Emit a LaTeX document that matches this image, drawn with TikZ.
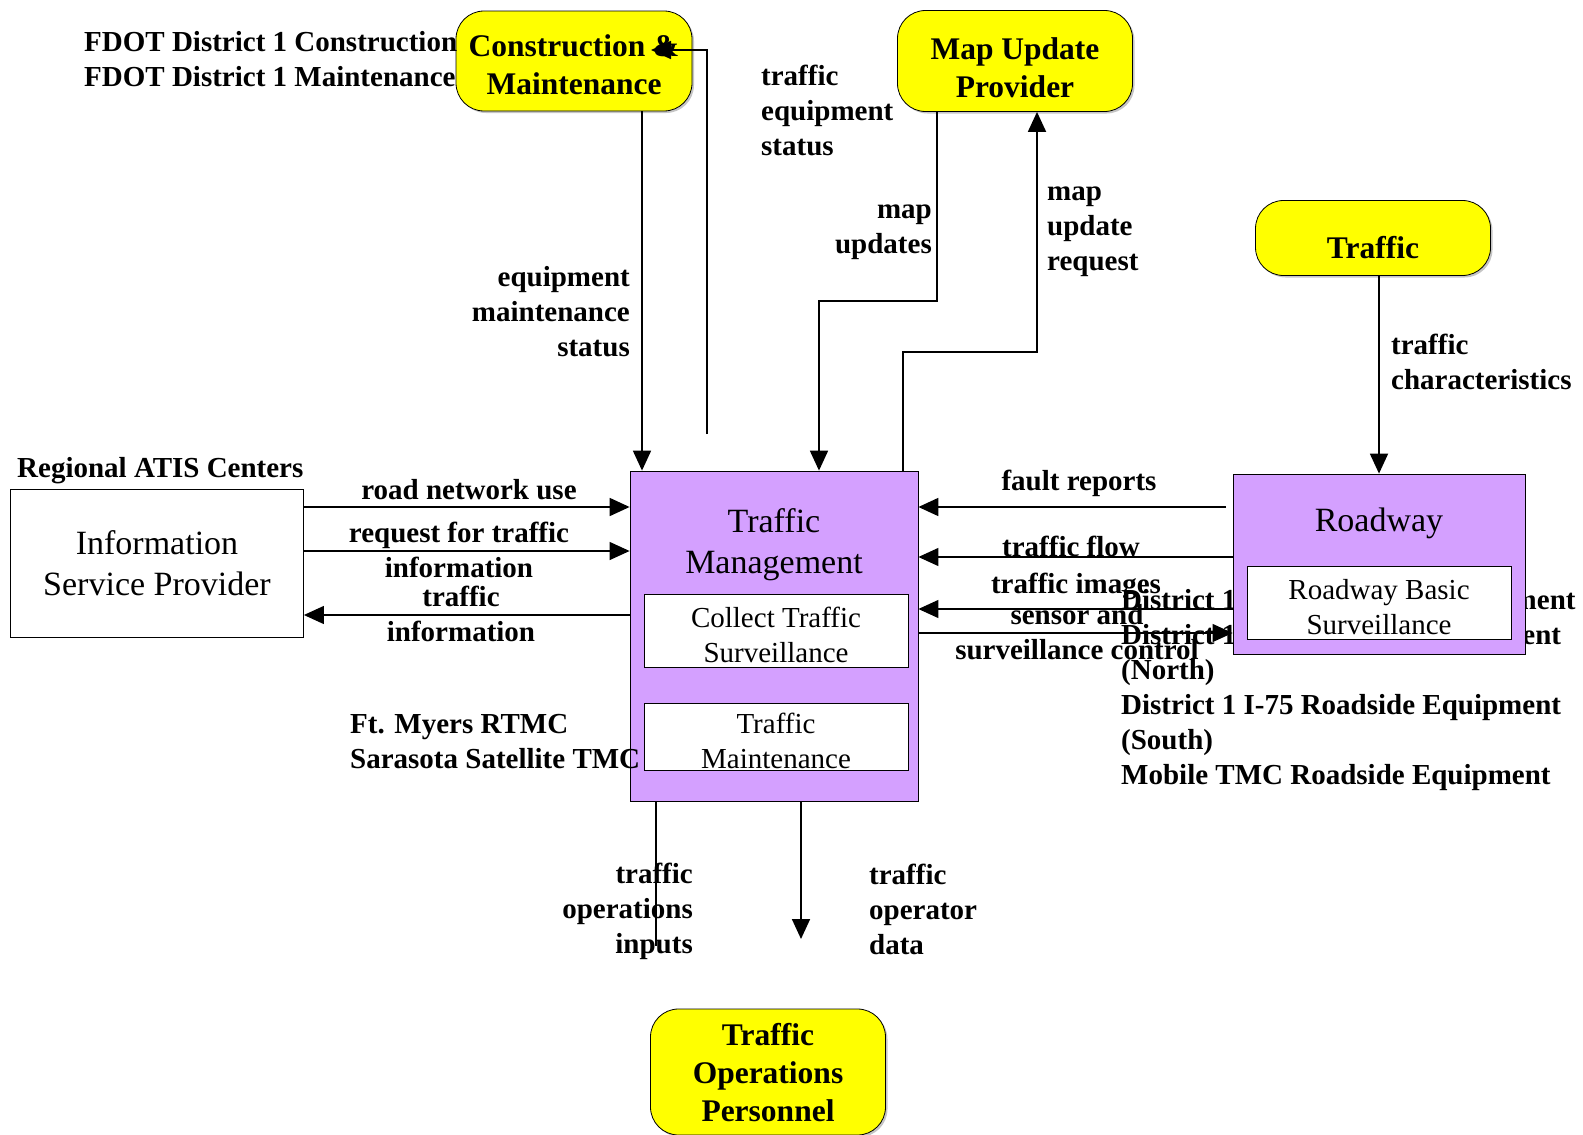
\documentclass[tikz,border=0pt]{standalone}
\usepackage{fontspec}
\setmainfont{Liberation Serif}
\usetikzlibrary{arrows.meta,shadows}

\definecolor{termyellow}{RGB}{255,255,0}
\definecolor{unitpurple}{RGB}{212,160,255}

\begin{document}
\begin{tikzpicture}[x=1pt,y=-1pt,
  every node/.style={inner sep=0pt},
  term/.style={draw, line width=0.8pt, fill=termyellow, rounded corners=28pt,
    align=center, text depth=0pt, font=\bfseries\fontsize{31.5}{38}\selectfont,
    drop shadow={shadow xshift=2pt, shadow yshift=-2pt, fill=black!45}},
  unit/.style={draw, line width=0.8pt, fill=unitpurple},
  unittitle/.style={align=center, font=\fontsize{34}{41}\selectfont},
  func/.style={draw, line width=0.8pt, fill=white, align=center, text height=63pt,
    text depth=0pt, font=\fontsize{29}{35}\selectfont},
  lbl/.style={font=\bfseries\fontsize{29}{35}\selectfont},
  flow/.style={line width=1.8pt, -{Triangle[length=20pt,width=18pt]}},
  thinflow/.style={line width=1.2pt, -{Triangle[length=20pt,width=18pt]}},
  plain/.style={line width=1.8pt}]

\useasboundingbox (0,0) rectangle (1583,1135);

% roadside equipment names (partly covered by the Roadway box)
\node[lbl, align=left, anchor=west] (rse) at (1121,690)
  {District 1 I-275 Roadside Equipment\\District 1 I-75 Roadside Equipment\\(North)\\
   District 1 I-75 Roadside Equipment\\(South)\\Mobile TMC Roadside Equipment};

% terminators
\node[term, minimum width=236pt, minimum height=100pt, text height=67pt] (cm) at (574,61) {Construction \&\\Maintenance};
\node[term, minimum width=235pt, minimum height=101pt, text height=73pt] (mup) at (1015,61) {Map Update\\Provider};
\node[term, minimum width=235pt, minimum height=75pt, text height=41pt] (trf) at (1373,238) {Traffic};
\node[term, minimum width=235pt, minimum height=126pt] (top) at (768,1072) {Traffic\\Operations\\Personnel};

% Information Service Provider
\node[draw, line width=0.8pt, fill=white, minimum width=293pt, minimum height=148pt,
  unittitle] (isp) at (157,563) {Information\\Service Provider};

% Traffic Management
\node[unit, minimum width=288pt, minimum height=330pt] (tm) at (774,636) {};
\node[unittitle] (tmt) at (774,545) {Traffic\\Management};
\node[func, minimum width=264pt, minimum height=73pt] (cts) at (776,631) {Collect Traffic\\Surveillance};
\node[func, minimum width=264pt, minimum height=67pt] (tmn) at (776,737) {Traffic\\Maintenance};

% Roadway
\node[unit, minimum width=292pt, minimum height=180pt] (rdw) at (1379,564) {};
\node[unittitle] (rdwt) at (1379,523) {Roadway};
\node[func, minimum width=264pt, minimum height=73pt] (rbs) at (1379,603) {Roadway Basic\\Surveillance};

% element names
\node[lbl, align=left, anchor=west] (fdot) at (84,59) {FDOT District 1 Construction\\FDOT District 1 Maintenance};
\node[lbl, anchor=west] (ratis) at (17,471) {Regional ATIS Centers};
\node[lbl, align=left, anchor=west] (rtmc) at (350,742) {Ft. Myers RTMC\\Sarasota Satellite TMC};

% x and y positions of the flows
\coordinate (xems) at (642,0);
\coordinate (xmu) at (819,0);
\coordinate (xmr) at (903,0);
\coordinate (xtod) at (801,0);
\coordinate (xtoi) at (656,0);
\coordinate (yrnu) at (0,507);
\coordinate (yreq) at (0,551);
\coordinate (yti) at (0,615);
\coordinate (yfr) at (0,507);
\coordinate (ytf) at (0,557);
\coordinate (ytim) at (0,609);
\coordinate (yssc) at (0,633);
\coordinate (cmup) at (707,434);
\coordinate (cmtip) at (651,50);
\coordinate (mubend) at (937,301);
\coordinate (mrbend) at (1037,352);
\coordinate (frstart) at (1226,507);
\coordinate (todend) at (801,939);
\coordinate (toiend) at (656,946);

% Construction & Maintenance
\draw[flow] (xems |- cm.south) -- (xems |- tm.north);
\draw[flow] (cmup) |- (cmtip);
\node[lbl, align=right, anchor=east] (l1) at (630,312) {equipment\\maintenance\\status};
\node[lbl, align=left, anchor=west] (l2) at (761,110) {traffic\\equipment\\status};

% Map Update Provider
\draw[flow] (mubend |- mup.south) -- (mubend) -| (xmu |- tm.north);
\draw[flow] (xmr |- tm.north) |- (mrbend) -- (mrbend |- mup.south);
\node[lbl, align=right, anchor=east] (l3) at (932,232) {map\\updates};
\node[lbl, align=left, anchor=west] (l4) at (1047,232) {map\\update\\request};

% Traffic
\draw[flow] (rdw.north |- trf.south) -- (rdw.north);
\node[lbl, align=left, anchor=west] (l5) at (1391,362) {traffic\\characteristics};

% Information Service Provider
\draw[flow] (isp.east |- yrnu) -- (tm.west |- yrnu);
\draw[thinflow] (isp.east |- yreq) -- (tm.west |- yreq);
\draw[thinflow] (tm.west |- yti) -- (isp.east |- yti);
\node[lbl] (l6) at (469,490) {road network use};
\node[lbl, align=center] (l7) at (459,550) {request for traffic\\information};
\node[lbl, align=center] (l8) at (461,614) {traffic\\information};

% Roadway
\draw[flow] (frstart) -- (tm.east |- yfr);
\draw[thinflow] (rdw.west |- ytf) -- (tm.east |- ytf);
\draw[thinflow] (rdw.west |- ytim) -- (tm.east |- ytim);
\draw[thinflow] (tm.east |- yssc) -- (rdw.west |- yssc);
\node[lbl] (l9) at (1079,483) {fault reports};
\node[lbl, align=center] (l10) at (1071,546) {traffic flow};
\node[lbl] (l11) at (1076,586) {traffic images};
\node[lbl, align=center] (l12) at (1077,632) {sensor and\\surveillance control};

% Traffic Operations Personnel
\draw[flow] (xtod |- tm.south) -- (todend);
\draw[plain] (xtoi |- tm.south) -- (toiend);
\node[lbl, align=right, anchor=east] (l13) at (693,911) {traffic\\operations\\inputs};
\node[lbl, align=left, anchor=west] (l14) at (869,909) {traffic\\operator\\data};

\end{tikzpicture}
\end{document}
